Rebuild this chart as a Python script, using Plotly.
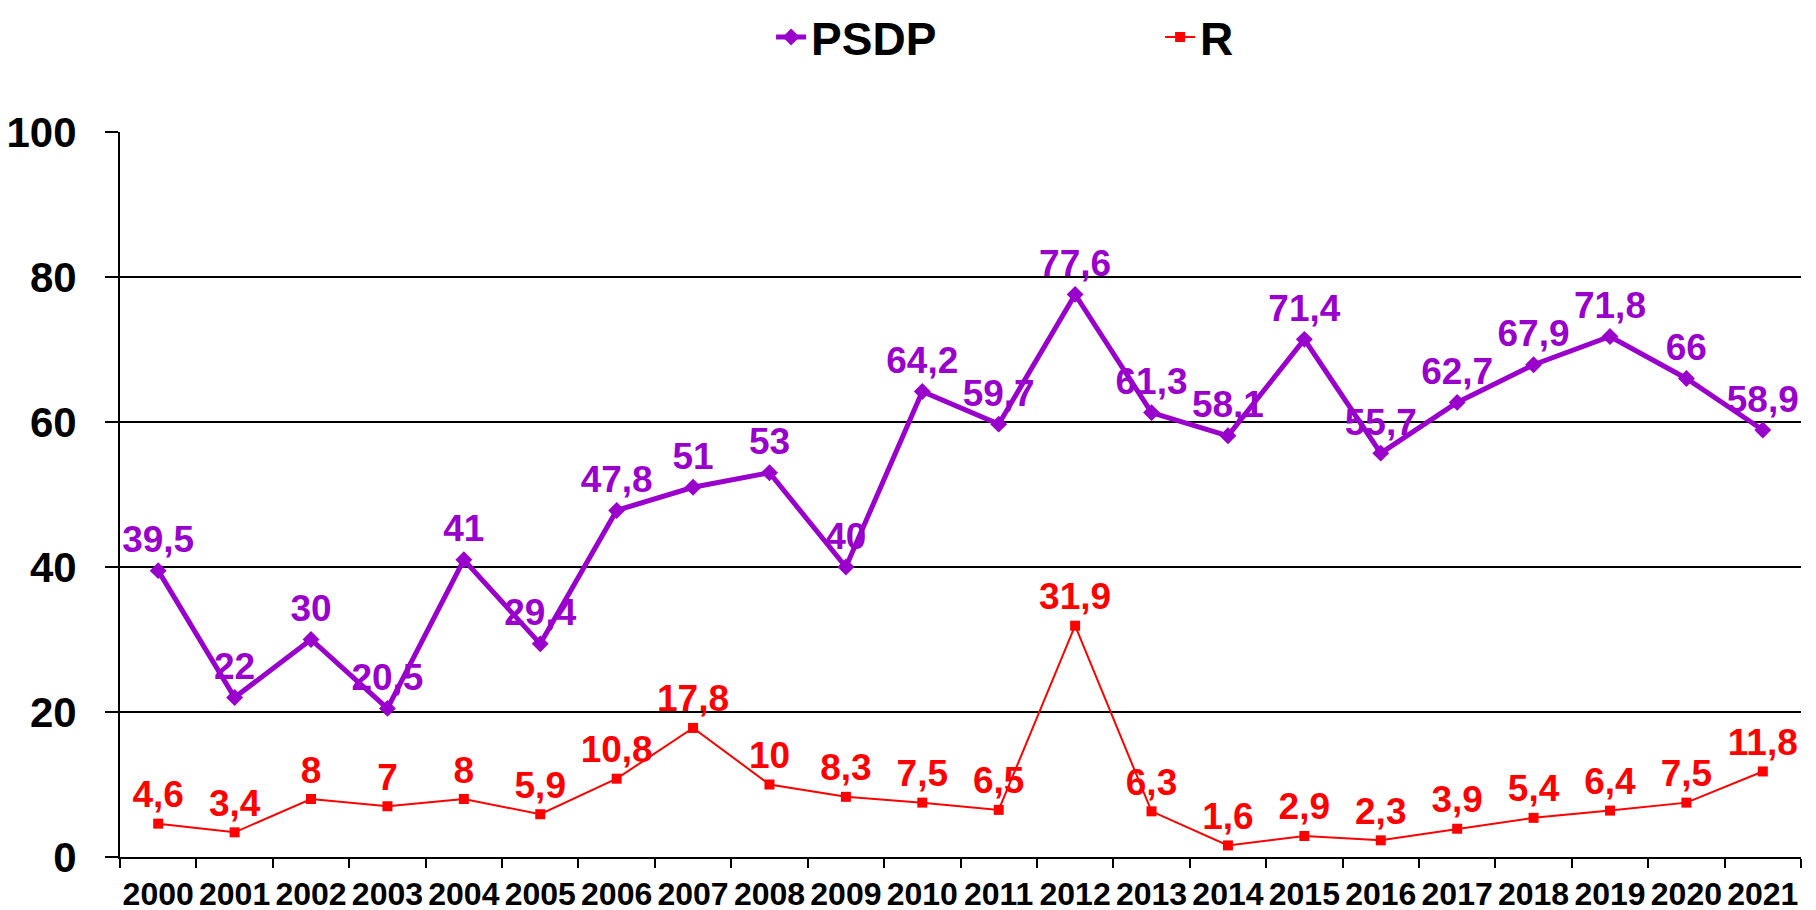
import plotly.graph_objects as go

years = [str(y) for y in range(2000, 2022)]
psdp = [39.5, 22, 30, 20.5, 41, 29.4, 47.8, 51, 53, 40, 64.2, 59.7, 77.6, 61.3,
        58.1, 71.4, 55.7, 62.7, 67.9, 71.8, 66, 58.9]
r_vals = [4.6, 3.4, 8, 7, 8, 5.9, 10.8, 17.8, 10, 8.3, 7.5, 6.5, 31.9, 6.3,
          1.6, 2.9, 2.3, 3.9, 5.4, 6.4, 7.5, 11.8]
y_ticks = [0, 20, 40, 60, 80, 100]

PURPLE = "#9900CC"
RED = "#FF0000"
FONT = "Liberation Sans, Arial, sans-serif"


def fmt(v):
    s = ("%g" % v)
    return s.replace(".", ",")


fig = go.Figure()
fig.add_trace(go.Scatter(
    x=years, y=psdp, name="PSDP", mode="lines+markers+text",
    line=dict(color=PURPLE, width=5),
    marker=dict(symbol="diamond", size=13, color=PURPLE),
    text=[fmt(v) for v in psdp], textposition="top center",
    textfont=dict(family=FONT, size=37, color=PURPLE, weight="bold"),
))
fig.add_trace(go.Scatter(
    x=years, y=r_vals, name="R", mode="lines+markers+text",
    line=dict(color=RED, width=2),
    marker=dict(symbol="square", size=10, color=RED),
    text=[fmt(v) for v in r_vals], textposition="top center",
    textfont=dict(family=FONT, size=37, color=RED, weight="bold"),
))

fig.update_layout(
    width=1816, height=910,
    margin=dict(l=112, r=23, t=124, b=61, autoexpand=False),
    paper_bgcolor="white", plot_bgcolor="white",
    font=dict(family=FONT, color="black"),
    showlegend=True,
    legend=dict(
        orientation="h", xref="container", x=0.4202, xanchor="left",
        yref="container", y=0.968, yanchor="middle",
        font=dict(family=FONT, size=46, color="black", weight="bold"),
        entrywidth=344, bgcolor="rgba(0,0,0,0)",
    ),
    xaxis=dict(
        type="category", showgrid=False, showline=True, linecolor="black",
        linewidth=2, ticks="outside", tickson="boundaries", ticklen=9,
        tickwidth=2, tickcolor="black", tickangle=0, automargin=False,
        ticklabelstandoff=8,
        tickfont=dict(family=FONT, size=32, color="black", weight="bold"),
        range=[-0.5, 21.5],
    ),
    yaxis=dict(
        range=[0, 100], tickvals=y_ticks, showgrid=True, gridcolor="black",
        gridwidth=1.5, showline=True, linecolor="black", linewidth=2,
        ticks="outside", ticklen=13, tickwidth=1.5, tickcolor="black",
        ticklabelstandoff=20, automargin=False,
        tickfont=dict(family=FONT, size=42, color="black", weight="bold"),
        zeroline=False,
    ),
)

fig.write_html("out.html")
